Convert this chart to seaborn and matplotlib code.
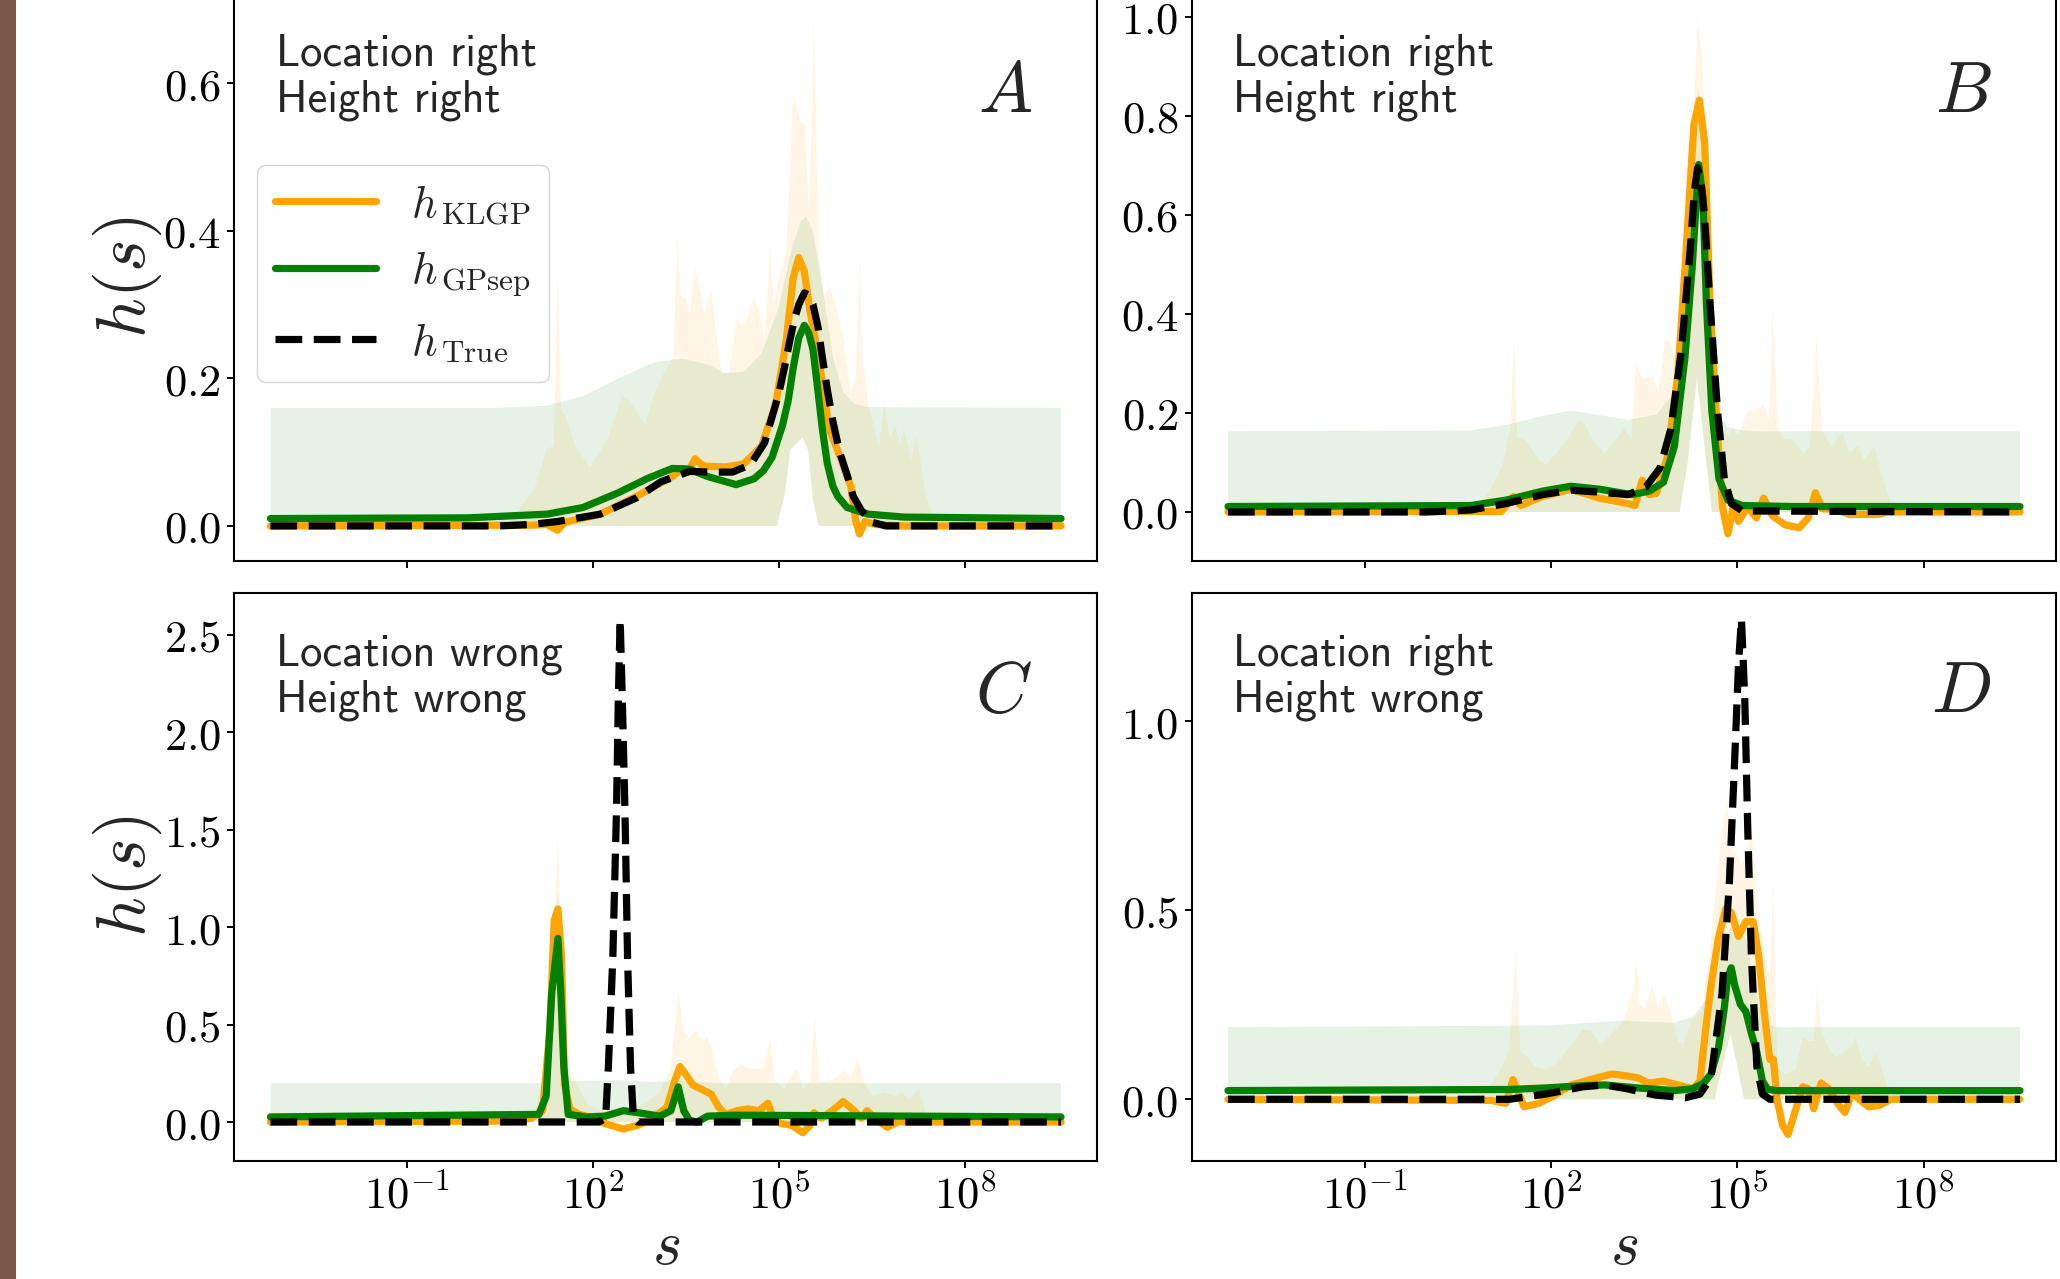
import numpy as np
import matplotlib
matplotlib.use("Agg")
import matplotlib.pyplot as plt
import seaborn as sns
from matplotlib.ticker import FixedLocator, NullLocator, FuncFormatter, MultipleLocator
from matplotlib.patches import Rectangle

# ---------------- data (x values are log10(s)) ----------------
# Panel A
a_true_x = [-3.2, 0.5, 1.0, 1.43, 2.12, 2.70, 3.10, 3.56, 3.91, 4.25, 4.54, 4.77, 5.00, 5.09, 5.18, 5.25, 5.32, 5.41, 5.48, 5.55, 5.63, 5.70, 5.78, 5.87, 5.98, 6.10, 6.20, 6.33, 6.50, 6.73, 9.55]
a_true_y = [0, 0, 0.002, 0.006, 0.016, 0.038, 0.06, 0.074, 0.073, 0.073, 0.083, 0.113, 0.18, 0.215, 0.253, 0.28, 0.30, 0.316, 0.313, 0.30, 0.27, 0.229, 0.185, 0.142, 0.10, 0.069, 0.04, 0.021, 0.005, 0, 0]
a_klgp_x = [-3.2, 1.0, 1.26, 1.43, 1.55, 2.12, 2.70, 3.28, 3.45, 3.55, 3.65, 3.75, 3.82, 4.14, 4.43, 4.72, 4.95, 5.12, 5.23, 5.32, 5.41, 5.50, 5.64, 5.81, 5.99, 6.16, 6.24, 6.30, 6.39, 6.56, 7.0, 9.55]
a_klgp_y = [0, 0.001, 0.002, -0.006, 0.005, 0.016, 0.04, 0.067, 0.078, 0.076, 0.091, 0.083, 0.081, 0.08, 0.084, 0.108, 0.166, 0.253, 0.336, 0.364, 0.345, 0.292, 0.229, 0.132, 0.093, 0.054, 0.006, -0.011, 0.006, 0.002, 0, 0]
a_gp_x = [-3.2, 0.0, 1.26, 1.84, 2.41, 2.87, 3.28, 3.56, 3.85, 4.31, 4.60, 4.75, 4.89, 5.06, 5.15, 5.23, 5.32, 5.41, 5.48, 5.55, 5.62, 5.70, 5.78, 5.87, 5.95, 6.10, 6.44, 7.02, 9.55]
a_gp_y = [0.01, 0.011, 0.016, 0.025, 0.045, 0.064, 0.078, 0.077, 0.067, 0.056, 0.064, 0.075, 0.093, 0.137, 0.17, 0.214, 0.255, 0.272, 0.262, 0.239, 0.19, 0.132, 0.085, 0.054, 0.04, 0.025, 0.016, 0.012, 0.01]
a_gp_hi_x = [-3.2, 0.4, 1.26, 1.84, 2.41, 2.99, 3.45, 3.85, 4.14, 4.43, 4.72, 5.00, 5.20, 5.35, 5.44, 5.55, 5.70, 5.87, 6.04, 6.21, 6.44, 9.55]
a_gp_hi_y = [0.16, 0.16, 0.163, 0.176, 0.2, 0.222, 0.227, 0.219, 0.207, 0.209, 0.234, 0.297, 0.374, 0.413, 0.42, 0.398, 0.326, 0.229, 0.181, 0.166, 0.161, 0.16]
a_gp_lo_x = [-3.2, 4.97, 5.10, 5.18, 5.38, 5.47, 5.55, 5.64, 9.55]
a_gp_lo_y = [0, 0, 0.045, 0.103, 0.12, 0.103, 0.035, 0, 0]
a_kl_hi_x = [0.61, 1.06, 1.26, 1.37, 1.43, 1.49, 1.55, 1.72, 1.95, 2.24, 2.47, 2.58, 2.84, 2.99, 3.16, 3.30, 3.36, 3.42, 3.51, 3.56,
             3.65, 3.74, 3.79, 3.91, 4.00, 4.08, 4.20, 4.31, 4.40, 4.49, 4.60, 4.69, 4.77, 4.86, 4.92, 5.00, 5.12, 5.23, 5.35, 5.42,
             5.49, 5.57, 5.64, 5.72, 5.81, 5.93, 6.04, 6.16, 6.24, 6.30, 6.35, 6.44, 6.61, 6.70, 6.79, 6.87, 6.96, 7.02, 7.13, 7.22,
             7.36, 7.53]
a_kl_hi_y = [0, 0.05, 0.105, 0.108, 0.35, 0.156, 0.151, 0.108, 0.079, 0.118, 0.176, 0.171, 0.137, 0.18, 0.21, 0.229, 0.389, 0.311, 0.306, 0.287,
             0.35, 0.316, 0.287, 0.321, 0.253, 0.205, 0.209, 0.282, 0.272, 0.282, 0.311, 0.287, 0.253, 0.384, 0.302, 0.336, 0.374, 0.587, 0.548, 0.544,
             0.423, 0.689, 0.374, 0.311, 0.326, 0.297, 0.253, 0.18, 0.205, 0.37, 0.229, 0.166, 0.108, 0.166, 0.118, 0.137, 0.108, 0.132, 0.089, 0.122,
             0.045, 0]
a_kl_lo_x = [0.61, 4.97, 5.10, 5.18, 5.38, 5.47, 5.55, 5.64, 7.53]
a_kl_lo_y = [0, 0, 0.045, 0.103, 0.12, 0.103, 0.035, 0, 0]

# Panel B
b_true_x = [-3.2, 0.0, 0.71, 1.28, 1.86, 2.32, 2.78, 3.24, 3.525, 3.755, 3.93, 4.10, 4.24, 4.31, 4.36, 4.41, 4.47, 4.56, 4.68, 4.79, 4.905, 5.08, 9.55]
b_true_y = [0, 0, 0.004, 0.017, 0.035, 0.044, 0.04, 0.035, 0.05, 0.089, 0.168, 0.327, 0.529, 0.65, 0.695, 0.67, 0.601, 0.421, 0.205, 0.067, 0.017, 0.002, 0]
b_klgp_x = [-3.2, 1.2, 1.397, 1.512, 1.857, 2.317, 2.777, 3.237, 3.352, 3.467, 3.582, 3.697, 3.87, 4.042, 4.157, 4.30, 4.387, 4.474, 4.56, 4.675,
            4.761, 4.847, 4.934, 5.02, 5.164, 5.307, 5.422, 5.566, 5.767, 5.997, 6.141, 6.256, 6.371, 6.572, 6.80, 7.263, 7.435, 9.55]
b_klgp_y = [0, 0.001, 0.031, 0.013, 0.031, 0.046, 0.028, 0.017, 0.013, 0.064, 0.035, 0.038, 0.11, 0.277, 0.493, 0.782, 0.832, 0.746, 0.421, 0.168,
            0.01, -0.044, 0.01, -0.019, 0.01, -0.012, 0.028, -0.008, -0.026, -0.032, -0.012, 0.039, 0.006, 0.006, -0.005, -0.005, 0, 0]
b_gp_x = [-3.2, 0.71, 1.28, 1.86, 2.32, 2.78, 3.30, 3.58, 3.81, 3.985, 4.157, 4.272, 4.376, 4.445, 4.502, 4.589, 4.704, 4.847, 5.077, 5.88, 9.55]
b_gp_y = [0.011, 0.013, 0.024, 0.042, 0.052, 0.046, 0.035, 0.042, 0.06, 0.132, 0.313, 0.493, 0.702, 0.637, 0.421, 0.205, 0.067, 0.024, 0.013, 0.011, 0.011]
b_gp_hi_x = [-3.2, 0.71, 1.28, 1.86, 2.32, 2.72, 3.24, 3.70, 3.985, 4.157, 4.272, 4.376, 4.474, 4.56, 4.675, 4.847, 5.077, 5.307, 9.55]
b_gp_hi_y = [0.163, 0.165, 0.176, 0.194, 0.205, 0.197, 0.186, 0.197, 0.241, 0.385, 0.601, 0.861, 0.71, 0.385, 0.205, 0.172, 0.165, 0.163, 0.163]
b_gp_lo_x = [-3.2, 4.07, 4.20, 4.35, 4.50, 4.59, 9.55]
b_gp_lo_y = [0, 0, 0.10, 0.27, 0.10, 0, 0]
b_kl_hi_x = [0.707, 0.995, 1.225, 1.34, 1.41, 1.455, 1.541, 1.627, 1.80, 1.915, 2.087, 2.26, 2.432, 2.518, 2.662, 2.864, 3.007, 3.18, 3.295, 3.364,
             3.467, 3.554, 3.64, 3.726, 3.841, 3.927, 4.042, 4.157, 4.272, 4.359, 4.445, 4.531, 4.617, 4.732, 4.847, 4.934, 5.02, 5.164, 5.25, 5.307,
             5.365, 5.422, 5.509, 5.566, 5.652, 5.767, 5.882, 6.055, 6.17, 6.274, 6.371, 6.515, 6.687, 6.802, 6.946, 7.033, 7.205, 7.32, 7.493, 7.607]
b_kl_hi_y = [0, 0.039, 0.096, 0.168, 0.356, 0.147, 0.150, 0.14, 0.104, 0.096, 0.118, 0.147, 0.183, 0.183, 0.147, 0.118, 0.14, 0.168, 0.147, 0.302,
             0.27, 0.27, 0.273, 0.241, 0.349, 0.342, 0.284, 0.385, 0.746, 0.998, 0.904, 0.529, 0.241, 0.168, 0.154, 0.168, 0.154, 0.205, 0.205, 0.212,
             0.209, 0.219, 0.183, 0.414, 0.168, 0.147, 0.147, 0.118, 0.132, 0.356, 0.161, 0.132, 0.161, 0.118, 0.136, 0.104, 0.132, 0.075, 0.01, 0]
b_kl_lo_x = [0.707, 4.07, 4.20, 4.35, 4.50, 4.59, 7.607]
b_kl_lo_y = [0, 0, 0.10, 0.27, 0.10, 0, 0]

# Panel C
c_true_x = [-3.2, 2.10, 2.205, 2.25, 2.322, 2.381, 2.41, 2.44, 2.475, 2.517, 2.559, 2.607, 2.654, 2.72, 9.55]
c_true_y = [0, 0, 0.02, 0.284, 0.848, 1.601, 2.165, 2.579, 2.165, 1.601, 0.848, 0.284, 0.02, 0, 0]
c_klgp_x = [-3.2, 0.715, 1.01, 1.188, 1.306, 1.377, 1.436, 1.495, 1.543, 1.631, 1.779, 2.016, 2.193, 2.489, 2.725, 2.962, 3.198, 3.317, 3.405, 3.494,
            3.612, 3.79, 3.908, 4.026, 4.145, 4.322, 4.5, 4.677, 4.825, 4.913, 5.032, 5.209, 5.386, 5.505, 5.564, 5.682, 5.86, 6.037, 6.214, 6.332,
            6.421, 6.54, 6.746, 6.924, 7.22, 9.55]
c_klgp_y = [0, 0.005, 0.02, 0.058, 0.472, 1.036, 1.093, 0.848, 0.19, 0.067, 0.039, 0.02, -0.008, -0.036, -0.017, 0.02, 0.077, 0.208, 0.284, 0.246,
            0.19, 0.162, 0.143, 0.077, 0.039, 0.058, 0.067, 0.058, 0.096, 0.02, -0.008, -0.017, -0.055, -0.017, 0.048, 0.02, 0.058, 0.105, 0.058, 0.02,
            0.058, 0.02, -0.027, 0.001, 0.0, 0]
c_gp_x = [-3.2, 1.129, 1.247, 1.336, 1.436, 1.483, 1.531, 1.602, 1.897, 2.193, 2.489, 2.725, 3.08, 3.257, 3.376, 3.465, 3.553, 3.672, 3.849, 4.263, 9.55]
c_gp_y = [0.026, 0.039, 0.133, 0.66, 0.942, 0.66, 0.284, 0.039, 0.026, 0.03, 0.058, 0.048, 0.03, 0.058, 0.18, 0.058, 0.011, -0.002, 0.03, 0.035, 0.026]
c_gp_hi_x = [-3.2, 1.25, 1.36, 1.436, 1.51, 1.62, 2.4, 3.0, 3.3, 3.376, 3.45, 4.0, 9.55]
c_gp_hi_y = [0.199, 0.20, 0.6, 1.2, 0.6, 0.21, 0.215, 0.205, 0.21, 0.3, 0.21, 0.2, 0.199]
c_gp_lo_x = [-3.2, 9.55]
c_gp_lo_y = [0, 0]
c_kl_hi_x = [0.892, 1.07, 1.247, 1.365, 1.436, 1.513, 1.572, 1.72, 1.897, 2.134, 2.489, 2.844, 3.08, 3.257, 3.376, 3.465, 3.553, 3.672, 3.76, 3.849,
             3.937, 4.026, 4.145, 4.263, 4.381, 4.559, 4.736, 4.854, 4.943, 5.091, 5.209, 5.298, 5.386, 5.505, 5.576, 5.653, 5.8, 5.919, 6.037, 6.155,
             6.273, 6.362, 6.51, 6.687, 6.865, 6.983, 7.101, 7.249, 7.397, 7.486]
c_kl_hi_y = [0, 0.058, 0.284, 0.848, 1.488, 0.66, 0.321, 0.208, 0.096, 0.058, 0.058, 0.096, 0.152, 0.284, 0.66, 0.472, 0.434, 0.472, 0.415, 0.434,
             0.359, 0.227, 0.171, 0.265, 0.293, 0.274, 0.274, 0.425, 0.208, 0.171, 0.246, 0.274, 0.171, 0.208, 0.547, 0.208, 0.208, 0.227, 0.265, 0.227,
             0.33, 0.208, 0.133, 0.152, 0.133, 0.152, 0.114, 0.171, 0.02, 0]
c_kl_lo_x = [0.892, 7.486]
c_kl_lo_y = [0, 0]

# Panel D
d_true_x = [-3.2, 1.33, 1.919, 2.51, 2.864, 3.218, 3.69, 4.163, 4.399, 4.576, 4.753, 4.871, 4.96, 5.019, 5.066, 5.12, 5.167, 5.226, 5.314, 5.403, 5.521, 9.55]
d_true_y = [0, 0, 0.014, 0.033, 0.038, 0.028, 0.011, 0.004, 0.014, 0.057, 0.281, 0.572, 0.911, 1.154, 1.271, 1.057, 0.717, 0.378, 0.086, 0.014, 0, 0]
d_klgp_x = [-3.2, 1.033, 1.27, 1.387, 1.447, 1.565, 1.801, 2.037, 2.332, 2.628, 2.982, 3.218, 3.395, 3.572, 3.809, 4.045, 4.281, 4.399, 4.488, 4.576,
            4.694, 4.812, 4.901, 5.019, 5.137, 5.255, 5.344, 5.432, 5.521, 5.58, 5.639, 5.728, 5.816, 5.934, 6.052, 6.141, 6.23, 6.348, 6.466, 6.613,
            6.731, 6.849, 6.967, 7.115, 7.292, 7.47, 9.55]
d_klgp_y = [0, -0.003, -0.011, 0.052, 0.028, -0.02, -0.011, 0.009, 0.038, 0.052, 0.067, 0.062, 0.057, 0.043, 0.048, 0.038, 0.028, 0.048, 0.183, 0.30,
            0.426, 0.504, 0.494, 0.431, 0.47, 0.47, 0.378, 0.232, 0.106, 0.106, -0.001, -0.069, -0.093, -0.03, 0.033, 0.028, -0.025, 0.043, 0.028, -0.011,
            -0.035, 0.018, -0.001, -0.02, -0.016, 0, 0]
d_gp_x = [-3.2, 1.33, 1.919, 2.51, 2.864, 3.395, 3.986, 4.281, 4.458, 4.576, 4.694, 4.783, 4.842, 4.901, 4.96, 5.049, 5.137, 5.226, 5.314, 5.403, 5.491, 5.639, 9.55]
d_gp_y = [0.023, 0.026, 0.03, 0.036, 0.038, 0.03, 0.023, 0.028, 0.043, 0.067, 0.135, 0.232, 0.32, 0.348, 0.30, 0.251, 0.232, 0.174, 0.125, 0.048, 0.026, 0.023, 0.023]
d_gp_hi_x = [-3.2, 1.919, 3.10, 3.986, 4.281, 4.576, 4.753, 4.871, 5.0, 5.137, 5.226, 5.344, 5.462, 5.639, 9.55]
d_gp_hi_y = [0.191, 0.195, 0.208, 0.203, 0.218, 0.281, 0.38, 0.45, 0.47, 0.42, 0.35, 0.25, 0.198, 0.191, 0.191]
d_gp_lo_x = [-3.2, 4.635, 4.753, 4.889, 5.0, 5.108, 9.55]
d_gp_lo_y = [0, 0, 0.086, 0.174, 0.086, 0, 0]
d_kl_hi_x = [0.738, 1.033, 1.21, 1.328, 1.435, 1.506, 1.594, 1.742, 1.919, 2.096, 2.332, 2.51, 2.628, 2.805, 2.982, 3.159, 3.336, 3.383, 3.425, 3.513,
             3.631, 3.72, 3.809, 3.927, 4.045, 4.133, 4.222, 4.31, 4.429, 4.547, 4.665, 4.753, 4.842, 4.901, 4.99, 5.078, 5.167, 5.237, 5.344, 5.462,
             5.521, 5.58, 5.639, 5.757, 5.934, 6.052, 6.141, 6.23, 6.289, 6.348, 6.466, 6.584, 6.702, 6.82, 6.908, 6.997, 7.115, 7.233, 7.351, 7.47]
d_kl_hi_y = [0, 0.038, 0.086, 0.135, 0.407, 0.125, 0.116, 0.086, 0.077, 0.096, 0.145, 0.184, 0.184, 0.145, 0.174, 0.203, 0.30, 0.378, 0.252, 0.242,
             0.30, 0.242, 0.281, 0.232, 0.154, 0.145, 0.193, 0.222, 0.232, 0.378, 0.572, 0.717, 0.785, 0.669, 0.65, 0.62, 0.669, 0.717, 0.475, 0.378,
             0.329, 0.572, 0.086, 0.067, 0.077, 0.164, 0.154, 0.154, 0.30, 0.184, 0.135, 0.111, 0.125, 0.135, 0.164, 0.106, 0.086, 0.125, 0.067, 0]
d_kl_lo_x = [0.738, 4.635, 4.753, 4.889, 5.0, 5.108, 7.47]
d_kl_lo_y = [0, 0, 0.086, 0.174, 0.086, 0, 0]

panel_letters = ["A", "B", "C", "D"]
panel_notes = ["Location right\nHeight right", "Location right\nHeight right",
               "Location wrong\nHeight wrong", "Location right\nHeight wrong"]
y_limits = [(-0.0475, 0.7227), (-0.099, 1.0485), (-0.1975, 2.716), (-0.162, 1.341)]
y_steps = [0.2, 0.2, 0.5, 0.5]
x_tick_values = [1e-1, 1e2, 1e5, 1e8]
legend_labels = [r"$h_{\,\rm KLGP}$", r"$h_{\,\rm GPsep}$", r"$h_{\,\rm True}$"]

# ---------------- style ----------------
sns.set_style("ticks")
plt.rcParams["font.family"] = ["DejaVu Sans"]
plt.rcParams["mathtext.fontset"] = "cm"
plt.rcParams["axes.edgecolor"] = "black"
plt.rcParams["axes.linewidth"] = 1.5

C_ORANGE = "orange"
C_GREEN = "green"
LW = 5.2

fig = plt.figure(figsize=(20.6, 12.79), dpi=100)
fig.add_artist(Rectangle((0, 0), 16 / 2060, 1, transform=fig.transFigure,
                         facecolor="#7B5548", edgecolor="none"))

positions = [
    [0.11383, 0.5614, 0.41869, 0.4441],
    [0.57864, 0.5614, 0.41942, 0.4441],
    [0.11383, 0.09265, 0.41869, 0.44402],
    [0.57864, 0.09265, 0.41942, 0.44402],
]

panels = [
    (a_true_x, a_true_y, a_klgp_x, a_klgp_y, a_gp_x, a_gp_y, a_gp_hi_x, a_gp_hi_y, a_gp_lo_x, a_gp_lo_y, a_kl_hi_x, a_kl_hi_y, a_kl_lo_x, a_kl_lo_y),
    (b_true_x, b_true_y, b_klgp_x, b_klgp_y, b_gp_x, b_gp_y, b_gp_hi_x, b_gp_hi_y, b_gp_lo_x, b_gp_lo_y, b_kl_hi_x, b_kl_hi_y, b_kl_lo_x, b_kl_lo_y),
    (c_true_x, c_true_y, c_klgp_x, c_klgp_y, c_gp_x, c_gp_y, c_gp_hi_x, c_gp_hi_y, c_gp_lo_x, c_gp_lo_y, c_kl_hi_x, c_kl_hi_y, c_kl_lo_x, c_kl_lo_y),
    (d_true_x, d_true_y, d_klgp_x, d_klgp_y, d_gp_x, d_gp_y, d_gp_hi_x, d_gp_hi_y, d_gp_lo_x, d_gp_lo_y, d_kl_hi_x, d_kl_hi_y, d_kl_lo_x, d_kl_lo_y),
]


def band(ax, hx, hy, lx, ly, color):
    xs = np.concatenate([np.asarray(hx, float), np.asarray(lx, float)[::-1]])
    ys = np.concatenate([np.asarray(hy, float), np.asarray(ly, float)[::-1]])
    ax.fill(10.0 ** xs, ys, color=color, alpha=0.1, lw=0, zorder=1)


for i, (pos, data) in enumerate(zip(positions, panels)):
    (tx, ty, kx, ky, gx, gy, ghx, ghy, glx, gly, khx, khy, klx, kly) = data
    ax = fig.add_axes(pos)
    ax.set_xscale("log")
    band(ax, ghx, ghy, glx, gly, C_GREEN)
    band(ax, khx, khy, klx, kly, C_ORANGE)
    lab = (lambda k: legend_labels[k]) if i == 0 else (lambda k: None)
    sns.lineplot(x=10.0 ** np.asarray(kx), y=ky, ax=ax, color=C_ORANGE, linewidth=LW,
                 estimator=None, sort=False, label=lab(0), zorder=3)
    sns.lineplot(x=10.0 ** np.asarray(gx), y=gy, ax=ax, color=C_GREEN, linewidth=LW,
                 estimator=None, sort=False, label=lab(1), zorder=4)
    sns.lineplot(x=10.0 ** np.asarray(tx), y=ty, ax=ax, color="black", linewidth=LW,
                 linestyle="--", estimator=None, sort=False, label=lab(2), zorder=5)

    ax.set_xlim(10 ** -3.78, 10 ** 10.13)
    ax.set_ylim(*y_limits[i])
    ax.xaxis.set_major_locator(FixedLocator(x_tick_values))
    ax.xaxis.set_minor_locator(NullLocator())
    ax.xaxis.set_major_formatter(FuncFormatter(lambda v, p: r"$10^{%d}$" % int(round(np.log10(v)))))
    ax.yaxis.set_major_locator(MultipleLocator(y_steps[i]))
    ax.yaxis.set_minor_locator(NullLocator())
    ax.yaxis.set_major_formatter(FuncFormatter(lambda v, p: r"$%.1f$" % (v + 0.0)))
    ax.tick_params(direction="out", length=4.8, width=1.4, labelsize=32, pad=5,
                   colors="black")
    for sp in ax.spines.values():
        sp.set_linewidth(1.5)
        sp.set_color("black")
        sp.set_visible(True)

    if i < 2:
        ax.tick_params(axis="x", labelbottom=False)
        ax.set_xlabel("")
    else:
        ax.set_xlabel(r"$s$", fontsize=45)
        ax.xaxis.set_label_coords(0.5, -0.10)
    if i % 2 == 0:
        ax.set_ylabel(r"$h(s)$", fontsize=50)
        ax.yaxis.set_label_coords(-0.082, 0.5)
    else:
        ax.set_ylabel("")

    ax.text(0.048, 0.928, panel_notes[i], transform=ax.transAxes, fontsize=32,
            fontfamily="cmss10", va="top", ha="left", linespacing=1.13)
    ax.text(0.925, 0.79, r"$%s$" % panel_letters[i], transform=ax.transAxes,
            fontsize=52, ha="right", va="baseline")

    leg = ax.get_legend()
    if leg is not None:
        leg.remove()
    if i == 0:
        ax.legend(loc="upper left", bbox_to_anchor=(0.026, 0.697), borderaxespad=0,
                  fontsize=32, handlelength=2.27, handletextpad=0.8, frameon=True,
                  fancybox=True, framealpha=0.8, edgecolor="0.8")

fig.savefig("out.png", dpi=100)
